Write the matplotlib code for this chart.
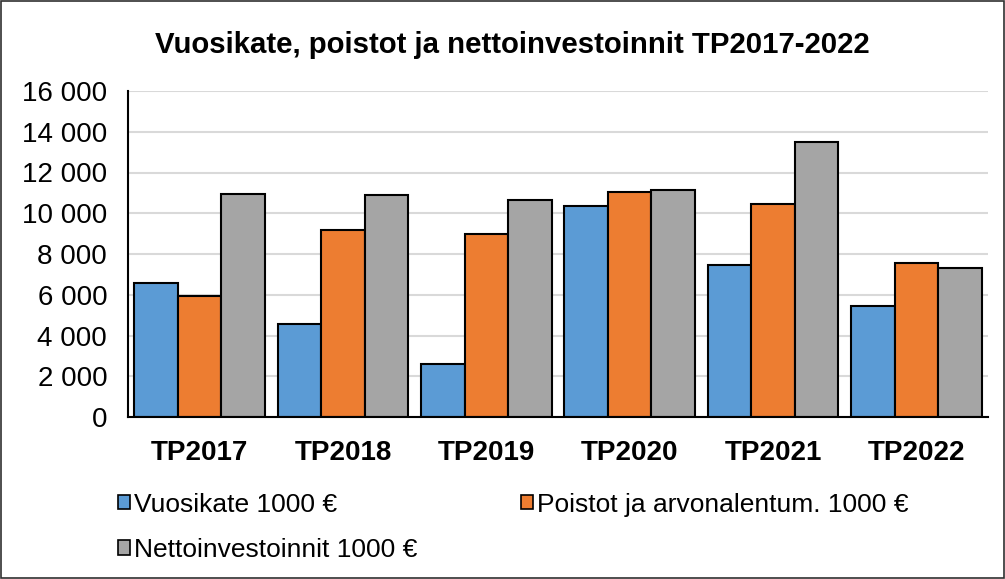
import matplotlib
matplotlib.use("Agg")
import matplotlib.pyplot as plt
import numpy as np
from matplotlib.patches import Rectangle, Patch
from matplotlib.ticker import FuncFormatter

plt.rcParams['font.family'] = ['Liberation Sans', 'DejaVu Sans']

categories = ["TP2017", "TP2018", "TP2019", "TP2020", "TP2021", "TP2022"]
vuosikate = [6590, 4560, 2610, 10360, 7460, 5460]
poistot = [5950, 9180, 8980, 11030, 10440, 7560]
nettoinv = [10930, 10920, 10660, 11150, 13510, 7310]
series_names = ["Vuosikate 1000 €", "Poistot ja arvonalentum. 1000 €", "Nettoinvestoinnit 1000 €"]
colors = ["#5b9bd5", "#ed7d31", "#a5a5a5"]
yticks = [0, 2000, 4000, 6000, 8000, 10000, 12000, 14000, 16000]

fig = plt.figure(figsize=(10.05, 5.79), dpi=100)
ax = fig.add_axes([128/1005, 1-417/579, (988-128)/1005, (417-91)/579])

x = np.arange(len(categories))
w = 0.304
for i, (vals, c) in enumerate(zip([vuosikate, poistot, nettoinv], colors)):
    ax.bar(x + (i-1)*w, vals, width=w, color=c, edgecolor="black", linewidth=1.5, zorder=3)

ax.set_xlim(-0.5, len(categories)-0.5)
ax.set_ylim(0, 16000)
ax.set_yticks(yticks)
ax.yaxis.set_major_formatter(FuncFormatter(lambda v, p: f"{int(v):,}".replace(",", " ")))
ax.set_xticks(x)
ax.set_xticklabels(categories, fontweight="bold")
ax.tick_params(axis="both", length=0, labelsize=20)
ax.tick_params(axis="x", pad=16.5)
ax.tick_params(axis="y", pad=15)
ax.grid(axis="y", color="#d9d9d9", linewidth=1.5, zorder=0)
for s in ["top", "right"]:
    ax.spines[s].set_visible(False)
ax.spines["left"].set_linewidth(1.5)
ax.spines["bottom"].set_linewidth(1.5)
ax.spines["left"].set_zorder(4)
ax.spines["bottom"].set_zorder(4)

fig.text(512/1005, 1-45/579, "Vuosikate, poistot ja nettoinvestoinnit TP2017-2022",
         ha="center", va="center", fontsize=21.2, fontweight="bold")

handles = [Patch(facecolor=c, edgecolor="black", linewidth=1.2) for c in colors]
order = [0, 2, 1]
leg = fig.legend([handles[i] for i in order], [series_names[i] for i in order],
                 ncol=2, loc="upper left",
                 bbox_to_anchor=(94/1005, 1-469/579), frameon=False, fontsize=19,
                 handlelength=0.45, handleheight=0.45, handletextpad=0.15,
                 columnspacing=3.95, labelspacing=0.8)

fig.patches.append(Rectangle((0.001, 0.001), 0.998, 0.998, transform=fig.transFigure,
                             fill=False, edgecolor="#303030", linewidth=1.2))

fig.savefig("out.png", dpi=100)
